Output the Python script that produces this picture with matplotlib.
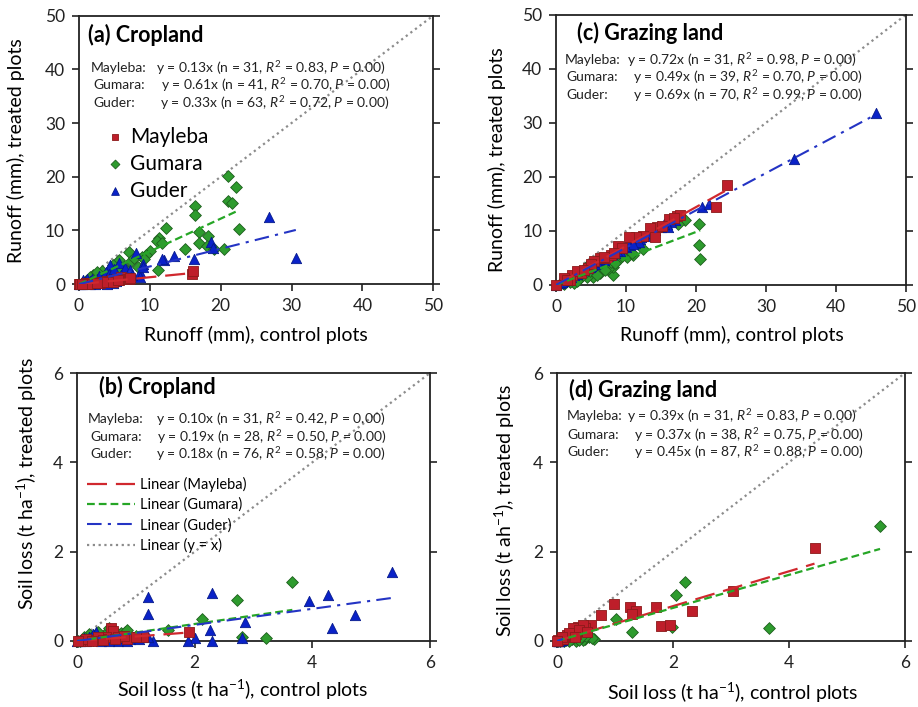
import numpy as np
import matplotlib
matplotlib.use("Agg")
import matplotlib.pyplot as plt

plt.rcParams['font.family'] = ['Lato', 'DejaVu Sans']
plt.rcParams['mathtext.fontset'] = 'custom'
plt.rcParams['mathtext.rm'] = 'Lato'
plt.rcParams['mathtext.it'] = 'Lato:italic'
plt.rcParams['axes.unicode_minus'] = False

sites = ['Mayleba', 'Gumara', 'Guder']

# (a) Cropland runoff (mm)
a_may_x = [0, 0.2, 0.5, 0.8, 1.0, 1.3, 1.6, 2.0, 2.3, 2.7, 3.0, 3.3, 3.6, 4.0, 4.3, 4.6, 5.0, 5.3, 5.7,
           6.0, 6.4, 7.0, 7.2, 3.8, 2.5, 1.2, 0.4, 4.8, 5.5, 15.9, 16.1]
a_may_y = [0, 0.0, 0.1, 0.1, 0.2, 0.1, 0.2, 0.3, 0.2, 0.4, 0.3, 0.5, 0.4, 0.6, 0.5, 0.7, 0.6, 0.9, 0.7,
           1.3, 0.9, 1.0, 1.2, 0.4, 0.3, 0.1, 0.0, 0.5, 0.8, 1.9, 2.4]
a_gum_x = [21.1, 22.2, 21.1, 21.6, 16.4, 16.4, 22.6, 12.3, 16.9, 18.2, 17.0, 18.0, 19.1, 20.4, 11.3, 11.0,
           11.7, 10.0, 9.5, 14.9, 11.1, 7.1, 8.9, 8.4, 7.4, 5.7, 6.3, 4.8, 3.3, 2.0, 2.0, 4.0, 5.3, 6.8,
           1.0, 3.0, 2.6, 0.5, 7.8, 9.2, 1.5]
a_gum_y = [20.1, 18.0, 15.4, 15.2, 14.6, 12.9, 10.2, 10.5, 9.7, 8.9, 7.6, 7.1, 6.5, 6.5, 8.6, 8.0,
           7.6, 6.1, 5.4, 6.5, 2.6, 6.0, 5.1, 3.2, 4.3, 4.5, 3.2, 3.5, 2.5, 1.7, 1.1, 2.0, 2.8, 2.5,
           0.6, 1.4, 2.2, 0.3, 4.9, 4.7, 1.3]
a_gud_x = [26.8, 30.6, 18.7, 18.9, 16.3, 12.0, 11.7, 13.4, 8.1, 9.1, 8.6, 8.6, 5.6, 4.4, 6.5, 7.2, 5.0,
           4.5, 4.8, 3.5, 3.0, 2.5, 2.0, 1.5, 1.0, 0.5, 0.2, 0, 1.8, 3.8, 4.2, 5.2, 3.2, 2.8, 1.2, 0.8,
           4.9, 6.0, 3.9, 2.2, 1.6, 0.6, 5.5, 7.5, 9.0]
a_gud_y = [12.5, 4.8, 7.9, 6.8, 4.6, 4.5, 4.6, 5.3, 5.9, 3.7, 2.3, 1.4, 4.0, 3.5, 3.0, 2.6, 1.5,
           0.8, 0.3, 1.2, 0.5, 0.9, 0.3, 0.6, 0.2, 0.1, 0.0, 0, 1.0, 2.2, 1.9, 0.6, 0.2, 1.5, 0.9, 0.5,
           2.8, 1.8, 0.0, 0.1, 0.0, 0.8, 1.0, 1.8, 3.2]

# (b) Cropland soil loss (t/ha)
b_may_x = [1.90, 1.12, 0.58, 0.62, 0.5, 0.4, 0.3, 0.2, 0.1, 0.05, 0.7, 0.85, 1.0, 0.15, 0.35, 0.45,
           0.25, 0.02, 0.8, 0.65]
b_may_y = [0.20, 0.09, 0.28, 0.22, 0.1, 0.05, 0.03, 0.02, 0.01, 0.0, 0.08, 0.05, 0.1, 0.05, 0.08, 0.02,
           0.0, 0.0, 0.12, 0.04]
b_gum_x = [3.66, 2.72, 2.12, 1.55, 2.81, 3.22, 0.81, 0.61, 0.7, 0.9, 0.5, 0.4, 0.3, 0.2, 0.15, 0.1,
           0.05, 0.35, 0.55, 0.75, 0.45, 0.25, 1.0, 0.65, 0.02, 0.85, 0.12, 0.28]
b_gum_y = [1.31, 0.91, 0.50, 0.24, 0.10, 0.07, 0.20, 0.22, 0.15, 0.1, 0.18, 0.12, 0.1, 0.15, 0.05, 0.02,
           0.01, 0.2, 0.3, 0.18, 0.05, 0.08, 0.12, 0.1, 0.0, 0.25, 0.1, 0.03]
b_gud_x = [5.35, 4.27, 3.95, 4.72, 4.34, 2.86, 2.29, 2.26, 2.29, 2.80, 1.21, 1.20, 2.0, 1.88, 1.29, 1.2,
           0.33, 0.3, 0.9, 0.8, 0.7, 0.6, 0.5, 0.45, 0.4, 0.35, 0.25, 0.2, 0.15, 0.1, 0.05, 0.0, 0.65,
           0.75, 0.95, 1.05, 0.55, 0.28, 0.12, 0.85]
b_gud_y = [1.54, 1.04, 0.90, 0.59, 0.28, 0.43, 1.08, 0.25, 0.01, 0.07, 0.99, 0.61, 0.07, 0.01, 0.01, 0.09,
           0.2, 0.1, 0.05, 0.02, 0.0, 0.05, 0.02, 0.08, 0.0, 0.05, 0.02, 0.08, 0.0, 0.03, 0.01, 0.0, 0.1,
           0.06, 0.1, 0.05, 0.0, 0.15, 0.06, 0.0]

# (c) Grazing land runoff (mm)
c_may_x = [24.5, 22.9, 17.3, 17.7, 16.1, 14.4, 13.5, 14.2, 12.5, 11.5, 10.4, 8.9, 7.3, 6.3, 5.4, 3.5,
           2.3, 1.1, 0, 4.5, 7.8, 9.5, 3.0, 6.8, 16.8, 5.0, 2.0, 1.6, 4.0, 8.3, 15.2]
c_may_y = [18.5, 14.4, 12.8, 13.0, 12.2, 10.8, 10.5, 8.8, 9.0, 8.8, 8.8, 7.2, 4.9, 4.9, 4.4, 2.2,
           1.9, 1.2, 0, 3.2, 5.5, 6.8, 2.5, 5.2, 12.3, 3.8, 1.0, 0.9, 2.7, 5.9, 11.0]
c_gum_x = [20.6, 20.5, 20.4, 18.5, 17.5, 12.5, 8.2, 8.1, 6.3, 5.3, 5.1, 4.4, 2.5, 3.2, 3.8, 4.8, 5.6,
           6.8, 7.5, 9.0, 10.2, 11.0, 2.0, 1.2, 6.0, 4.2, 3.5, 7.0, 9.5, 0.5, 5.8, 7.8, 4.6, 2.8, 1.8,
           3.0, 8.5, 10.8, 1.0]
c_gum_y = [4.8, 7.3, 11.3, 12.0, 11.3, 6.6, 1.9, 3.4, 2.2, 1.4, 4.0, 1.5, 0.3, 1.0, 1.8, 2.6, 3.2,
           3.9, 3.0, 4.8, 5.2, 5.6, 0.5, 0.2, 3.5, 2.8, 2.0, 2.8, 5.3, 0.1, 1.8, 4.2, 3.6, 1.2, 0.9,
           0.8, 4.0, 6.0, 0.4]
c_gud_x = [45.7, 34.0, 20.9, 21.8, 17.0, 16.5, 15.8, 15.0, 14.2, 13.5, 12.8, 12.0, 11.3, 10.6, 10.0,
           9.5, 9.0, 8.5, 8.0, 7.5, 7.0, 6.5, 6.0, 5.5, 5.0, 4.5, 4.0, 3.5, 3.0, 2.5, 2.0, 1.5, 1.0,
           0.5, 0, 16.0, 14.6, 13.0, 11.8, 10.3, 9.2, 8.7, 7.8, 6.8, 5.8, 4.8, 3.8, 2.8, 1.8, 0.8,
           12.2, 11.0, 6.2, 4.2, 7.2, 3.2, 2.2, 15.5, 9.8, 5.2]
c_gud_y = [31.8, 23.3, 14.5, 15.0, 12.0, 11.7, 11.2, 10.7, 10.2, 10.0, 9.0, 8.5, 7.8, 7.4, 7.0,
           6.8, 6.4, 6.0, 5.5, 5.2, 4.9, 4.6, 4.3, 3.9, 3.5, 3.2, 2.8, 2.5, 2.1, 1.8, 1.4, 1.0, 0.7,
           0.3, 0, 10.8, 10.9, 9.6, 8.0, 7.5, 6.2, 6.3, 5.6, 4.6, 4.2, 3.3, 2.7, 2.0, 1.2, 0.6,
           8.9, 7.6, 4.8, 3.1, 5.0, 2.4, 1.5, 11.3, 7.2, 3.7]

# (d) Grazing land soil loss (t/ha)
d_may_x = [4.44, 3.03, 2.32, 1.70, 1.26, 1.36, 1.29, 0.99, 0.75, 1.80, 1.95, 0.59, 0.49, 0.37, 0.29,
           0.17, 0.06, 0.42, 0.33, 0.22, 0.12, 0.02, 0.45, 0.27, 0.1, 0.38, 0.52, 0.2, 0.31, 0.08, 0.0]
d_may_y = [2.09, 1.13, 0.66, 0.76, 0.75, 0.67, 0.61, 0.82, 0.59, 0.33, 0.35, 0.35, 0.29, 0.31, 0.2,
           0.13, 0.05, 0.22, 0.15, 0.1, 0.08, 0.02, 0.35, 0.28, 0.04, 0.25, 0.2, 0.18, 0.1, 0.1, 0.0]
d_gum_x = [5.57, 2.21, 2.05, 1.99, 3.65, 1.29, 1.02, 0.63, 0.49, 0.32, 0.40, 0.25, 0.18, 0.1, 0.05,
           0.55, 0.35, 0.28, 0.15, 0.45, 0.6, 0.22, 0.3, 0.38, 0.08, 0.12, 0.02, 0.5, 0.2, 0.42]
d_gum_y = [2.57, 1.31, 1.02, 0.31, 0.30, 0.20, 0.50, 0.04, 0.05, 0.01, 0.1, 0.05, 0.1, 0.03, 0.0,
           0.08, 0.06, 0.15, 0.02, 0.02, 0.06, 0.08, 0.18, 0.03, 0.05, 0.0, 0.01, 0.12, 0.0, 0.08]
d_gud_x = [0.01, 0.02, 0.03, 0.05, 0.04, 0.06, 0.08, 0.1, 0.0]
d_gud_y = [0.0, 0.01, 0.01, 0.02, 0.0, 0.03, 0.03, 0.04, 0.0]

# regression slopes and stats: (slope, n, R2)
a_fit = [(0.13, 31, 0.83), (0.61, 41, 0.70), (0.33, 63, 0.72)]
b_fit = [(0.10, 31, 0.42), (0.19, 28, 0.50), (0.18, 76, 0.58)]
c_fit = [(0.72, 31, 0.98), (0.49, 39, 0.70), (0.69, 70, 0.99)]
d_fit = [(0.39, 31, 0.83), (0.37, 38, 0.75), (0.45, 87, 0.88)]

mk = {'Mayleba': dict(marker='s', s=42, c='#BE1E2A', edgecolors='#8B1A1A', linewidths=0.6),
      'Gumara': dict(marker='D', s=36, c='#2E9B2E', edgecolors='#1E5E1E', linewidths=0.6),
      'Guder': dict(marker='^', s=55, c='#0A22C8', edgecolors='#061A8C', linewidths=0.6)}
ln = {'Mayleba': dict(color='#D0282E', dashes=(9, 4), lw=1.6),
      'Gumara': dict(color='#26A626', dashes=(3.5, 1.8), lw=1.6),
      'Guder': dict(color='#2434C4', dashes=(7, 3, 1.5, 3), lw=1.5)}

fig = plt.figure(figsize=(9.18, 7.07), dpi=100)
axes = {
    'a': fig.add_axes([0.086, 0.598, 0.386, 0.380]),
    'c': fig.add_axes([0.6057, 0.597, 0.381, 0.382]),
    'b': fig.add_axes([0.0839, 0.0934, 0.3845, 0.379]),
    'd': fig.add_axes([0.6068, 0.0934, 0.379, 0.379]),
}

panels = {
    'a': dict(data=[(a_may_x, a_may_y), (a_gum_x, a_gum_y), (a_gud_x, a_gud_y)], fit=a_fit, lim=50,
              ticks=[0, 10, 20, 30, 40, 50], title='(a) Cropland',
              xl='Runoff (mm), control plots', yl='Runoff (mm), treated plots',
              tpos=(0.025, 0.929), rows=[0.803, 0.740, 0.673], lx=[0.034, 0.042, 0.042],
              ex=[0.218, 0.232, 0.229], xlc=(0.5, -0.19), ylc=(-0.178, 0.498)),
    'c': dict(data=[(c_may_x, c_may_y), (c_gum_x, c_gum_y), (c_gud_x, c_gud_y)], fit=c_fit, lim=50,
              ticks=[0, 10, 20, 30, 40, 50], title='(c) Grazing land',
              xl='Runoff (mm), control plots', yl='Runoff (mm), treated plots',
              tpos=(0.059, 0.933), rows=[0.833, 0.770, 0.704], lx=[0.024, 0.029, 0.029],
              ex=[0.202, 0.219, 0.219], xlc=(0.502, -0.185), ylc=(-0.169, 0.463)),
    'b': dict(data=[(b_may_x, b_may_y), (b_gum_x, b_gum_y), (b_gud_x, b_gud_y)], fit=b_fit, lim=6,
              ticks=[0, 2, 4, 6], title='(b) Cropland',
              xl='Soil loss (t ha$^{-1}$), control plots', yl='Soil loss (t ha$^{-1}$), treated plots',
              tpos=(0.063, 0.948), rows=[0.830, 0.761, 0.697], lx=[0.029, 0.037, 0.037],
              ex=[0.224, 0.227, 0.225], xlc=(0.469, -0.184), ylc=(-0.142, 0.588)),
    'd': dict(data=[(d_may_x, d_may_y), (d_gum_x, d_gum_y), (d_gud_x, d_gud_y)], fit=d_fit, lim=6,
              ticks=[0, 2, 4, 6], title='(d) Grazing land',
              xl='Soil loss (t ha$^{-1}$), control plots', yl='Soil loss (t ah$^{-1}$), treated plots',
              tpos=(0.034, 0.935), rows=[0.838, 0.770, 0.705], lx=[0.027, 0.030, 0.030],
              ex=[0.200, 0.220, 0.220], xlc=(0.505, -0.195), ylc=(-0.149, 0.488)),
}

for key, p in panels.items():
    ax = axes[key]
    lim = p['lim']
    # 1:1 line
    ax.plot([0, lim], [0, lim], color='#8C8C8C', lw=1.6, dashes=(1, 1.6), label='Linear (y = x)', zorder=2)
    # scatter: Gumara, Guder, Mayleba order
    sc = {}
    for i in [1, 2, 0]:
        x, y = p['data'][i]
        sc[sites[i]] = ax.scatter(x, y, label=sites[i], zorder=3, clip_on=False, **mk[sites[i]])
    # trend lines through origin
    lines = {}
    for i, name in enumerate(sites):
        x = np.array(p['data'][i][0])
        xs = np.array([0, x.max()])
        lines[name], = ax.plot(xs, p['fit'][i][0] * xs, zorder=4, label=f'Linear ({name})', **ln[name])

    ax.set_xlim(0, lim)
    ax.set_ylim(0, lim)
    ax.set_xticks(p['ticks'])
    ax.set_yticks(p['ticks'])
    ax.tick_params(direction='out', length=5, width=1.2, labelsize=12.5, colors='#222222',
                   right=True, pad=5)
    for s in ax.spines.values():
        s.set_linewidth(1.3)
        s.set_color('#222222')

    ax.set_xlabel(p['xl'], fontsize=14, va='center')
    ax.set_ylabel(p['yl'], fontsize=14, va='center')
    ax.xaxis.set_label_coords(*p['xlc'])
    ax.yaxis.set_label_coords(*p['ylc'])

    ax.text(p['tpos'][0], p['tpos'][1], p['title'], transform=ax.transAxes, fontsize=15.5,
            fontweight='bold', va='center', ha='left')
    for i, name in enumerate(sites):
        slope, n, r2 = p['fit'][i]
        ax.text(p['lx'][i], p['rows'][i], f'{name}:', transform=ax.transAxes, fontsize=10,
                va='center', ha='left', color='#222222')
        ax.text(p['ex'][i], p['rows'][i],
                f'y = {slope:.2f}x (n = {n}, $R^2$ = {r2:.2f}, $P$ = 0.00)',
                transform=ax.transAxes, fontsize=10, va='center', ha='left', color='#222222')

    if key == 'a':
        ax.legend(handles=[sc[s] for s in sites], loc='upper left', bbox_to_anchor=(0.079, 0.586),
                  frameon=False, fontsize=15, handlelength=0.8, handletextpad=0.3, labelspacing=0.33,
                  borderpad=0, borderaxespad=0, markerscale=0.75, scatterpoints=1)
    if key == 'b':
        handles = [lines[s] for s in sites] + [ax.lines[0]]
        ax.legend(handles=handles, loc='upper left', bbox_to_anchor=(0.028, 0.612),
                  frameon=False, fontsize=10.5, handlelength=3.3, handletextpad=0.36,
                  labelspacing=0.4, borderpad=0, borderaxespad=0)

fig.savefig('out.png', dpi=100)
